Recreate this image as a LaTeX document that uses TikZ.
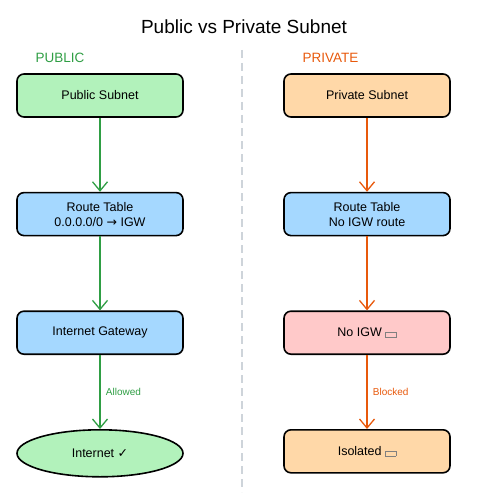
\documentclass[tikz,border=0pt]{standalone}
\usepackage{fontspec}
\setmainfont{Liberation Sans}
\newfontfamily\symfont{DejaVu Sans}
\usepackage{xcolor}
\usetikzlibrary{arrows.meta,positioning,shapes.geometric}

\definecolor{pubgreen}{HTML}{2F9E44}
\definecolor{pubfill}{HTML}{B2F2BB}
\definecolor{privorange}{HTML}{E8590C}
\definecolor{privfill}{HTML}{FFD8A8}
\definecolor{rtfill}{HTML}{A5D8FF}
\definecolor{nofill}{HTML}{FFC9C9}
\definecolor{divgray}{HTML}{CED4DA}

% missing-glyph box as printed
\newcommand{\tofu}{{\color{gray}\setlength{\fboxsep}{0pt}\setlength{\fboxrule}{0.6pt}\fbox{\rule{0pt}{4pt}\hspace{10pt}}}}

\begin{document}
\begin{tikzpicture}[
  x=1pt, y=-1pt,
  font=\fontsize{12.5}{15}\selectfont,
  node distance=74pt,
  blk/.style={draw, line width=1.6pt, rounded corners=7pt, align=center,
    minimum width=166pt, minimum height=43pt},
  arrgreen/.style={-{Straight Barb[length=9pt,width=15pt]}, pubgreen, line width=1.3pt},
  arrorange/.style={-{Straight Barb[length=9pt,width=15pt]}, privorange, line width=1.3pt},
  lbl/.style={font=\fontsize{10}{12}\selectfont, anchor=west}
]
\useasboundingbox (0,0) rectangle (488,500);

% Title and divider
\node[font=\fontsize{19}{22}\selectfont] (title) at (244,27) {Public vs Private Subnet};
\coordinate (divtop) at (242,50);
\coordinate (divbot) at (242,492);
\draw[divgray, line width=1.6pt, dash pattern=on 8pt off 5pt] (divtop) -- (divbot);

% Public column
\node[pubgreen, anchor=west, font=\fontsize{13.5}{15}\selectfont] (pubtag) at (32,58) {PUBLIC};
\node[blk, fill=pubfill] (pubsub) at (100,95.5) {Public Subnet};
\node[blk, fill=rtfill, below=of pubsub] (pubrt) {Route Table\\0.0.0.0/0 {\symfont →} IGW};
\node[blk, fill=rtfill, below=of pubrt] (igw) {Internet Gateway};
\node[ellipse, draw, line width=1.6pt, fill=pubfill, minimum width=166pt,
  minimum height=47pt, below=of igw] (inet) {Internet {\symfont ✓}};
\draw[arrgreen] (pubsub) -- (pubrt);
\draw[arrgreen] (pubrt) -- (igw);
\draw[arrgreen] (igw) -- node[lbl, pubgreen, xshift=2pt] {Allowed} (inet);

% Private column
\node[privorange, anchor=west, font=\fontsize{13.5}{15}\selectfont] (privtag) at (299,58) {PRIVATE};
\node[blk, fill=privfill] (privsub) at (367,95.5) {Private Subnet};
\node[blk, fill=rtfill, below=of privsub] (privrt) {Route Table\\No IGW route};
\node[blk, fill=nofill, below=of privrt] (noigw) {No IGW \tofu};
\node[blk, fill=privfill, below=of noigw] (iso) {Isolated \tofu};
\draw[arrorange] (privsub) -- (privrt);
\draw[arrorange] (privrt) -- (noigw);
\draw[arrorange] (noigw) -- node[lbl, privorange, xshift=2pt] {Blocked} (iso);
\end{tikzpicture}
\end{document}
